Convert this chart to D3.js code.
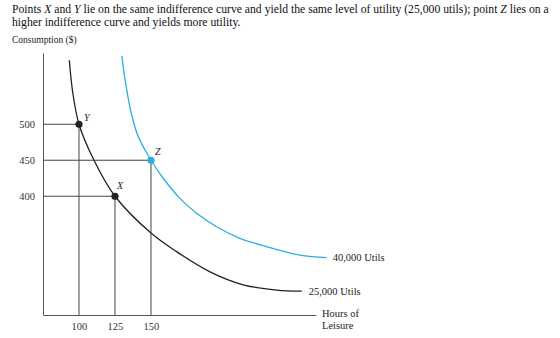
<!DOCTYPE html>
<html lang="en">
<head>
    <meta charset="UTF-8">
    <title>Indifference Curves</title>
    <script src="https://d3js.org/d3.v7.min.js"></script>
    <style>
        body { margin: 0; background: #fff; }
        text { font-family: "Liberation Serif", "Times New Roman", serif; }
    </style>
</head>
<body>

<script>
// values (leisure hours, consumption $)
const xTicks = [100, 125, 150];
const yTicks = [400, 450, 500];

const curveLow = [
    [93.3, 589], [95.6, 545], [100, 500], [110.4, 450], [125, 400],
    [150.2, 348.5], [167.8, 323], [191, 295], [214, 277], [237.3, 269.7], [254.7, 268.3]
];
const curveHigh = [
    [129.7, 595], [132.6, 554.4], [136.1, 517], [141, 483.6], [150, 450],
    [158.5, 425], [170.1, 397], [181.7, 376.3], [195.6, 357.6], [211.8, 341.5],
    [230.3, 330], [253.5, 318.3], [272, 314.6]
];
const points = [
    {name: "Y", leisure: 100, consumption: 500, curve: "low"},
    {name: "X", leisure: 125, consumption: 400, curve: "low"},
    {name: "Z", leisure: 150, consumption: 450, curve: "high"}
];
const curveLabels = ["25,000 Utils", "40,000 Utils"];

const width = 560, height = 338;
const black = "#222", blue = "#2aaee2";

const svg = d3.select("body").append("svg")
    .attr("width", width)
    .attr("height", height);

const x = d3.scaleLinear().domain([75, 264.6]).range([43, 316]);
const y = d3.scaleLinear().domain([235, 599]).range([315, 53]);

// caption
const cap = svg.append("text").attr("x", 12).attr("y", 13)
    .style("font-size", "11.7px").attr("fill", "#111");
cap.append("tspan").text("Points ");
cap.append("tspan").style("font-style", "italic").text("X");
cap.append("tspan").text(" and ");
cap.append("tspan").style("font-style", "italic").text("Y");
cap.append("tspan").text(" lie on the same indifference curve and yield the same level of utility (25,000 utils); point ");
cap.append("tspan").style("font-style", "italic").text("Z");
cap.append("tspan").text(" lies on a");
svg.append("text").attr("x", 12).attr("y", 26)
    .style("font-size", "11.7px").attr("fill", "#111")
    .text("higher indifference curve and yields more utility.");

svg.append("text").attr("x", 12).attr("y", 43)
    .style("font-size", "9.5px").attr("fill", "#222")
    .text("Consumption ($)");

// guide lines to the axes
const guides = svg.append("g").attr("stroke", "#444").attr("stroke-width", 1);
points.forEach(p => {
    guides.append("line")
        .attr("x1", x.range()[0]).attr("x2", x(p.leisure))
        .attr("y1", y(p.consumption)).attr("y2", y(p.consumption));
    guides.append("line")
        .attr("x1", x(p.leisure)).attr("x2", x(p.leisure))
        .attr("y1", y(p.consumption)).attr("y2", y.range()[0]);
});

// axes
const yAxis = svg.append("g")
    .attr("transform", `translate(${x.range()[0]},0)`)
    .call(d3.axisLeft(y).tickValues(yTicks).tickSize(0).tickSizeOuter(0).tickPadding(8));
const xAxis = svg.append("g")
    .attr("transform", `translate(0,${y.range()[0]})`)
    .call(d3.axisBottom(x).tickValues(xTicks).tickSize(0).tickSizeOuter(0).tickPadding(8));
[xAxis, yAxis].forEach(a => {
    a.select(".domain").attr("stroke", "#555");
    a.selectAll("text")
        .style("font-family", "'Liberation Serif', serif")
        .style("font-size", "10.5px").attr("fill", "#333");
});

// indifference curves
const line = d3.line()
    .x(d => x(d[0])).y(d => y(d[1]))
    .curve(d3.curveCatmullRom.alpha(0.5));
svg.append("path").datum(curveLow)
    .attr("d", line).attr("fill", "none")
    .attr("stroke", black).attr("stroke-width", 1.3);
svg.append("path").datum(curveHigh)
    .attr("d", line).attr("fill", "none")
    .attr("stroke", blue).attr("stroke-width", 1.3);

// curve labels
const endLow = curveLow[curveLow.length - 1];
const endHigh = curveHigh[curveHigh.length - 1];
svg.append("text")
    .attr("x", x(endLow[0]) + 7).attr("y", y(endLow[1]) + 3.5)
    .style("font-size", "10.5px").attr("fill", "#222")
    .text(curveLabels[0]);
svg.append("text")
    .attr("x", x(endHigh[0]) + 6).attr("y", y(endHigh[1]) + 3.5)
    .style("font-size", "10.5px").attr("fill", "#222")
    .text(curveLabels[1]);

// x axis title
const xt = svg.append("text")
    .attr("x", x.range()[1] + 6).attr("y", y.range()[0] + 2)
    .style("font-size", "10.5px").attr("fill", "#222");
xt.append("tspan").text("Hours of");
xt.append("tspan").attr("x", x.range()[1] + 6).attr("dy", 12).text("Leisure");

// points
svg.selectAll("circle.pt").data(points).enter().append("circle")
    .attr("class", "pt")
    .attr("cx", d => x(d.leisure)).attr("cy", d => y(d.consumption))
    .attr("r", 3.6)
    .attr("fill", d => d.curve === "high" ? blue : black);

const labelOffset = {Y: [5, -3], X: [2, -7], Z: [4, -5]};
svg.selectAll("text.pt").data(points).enter().append("text")
    .attr("class", "pt")
    .attr("x", d => x(d.leisure) + labelOffset[d.name][0])
    .attr("y", d => y(d.consumption) + labelOffset[d.name][1])
    .style("font-size", "10px").style("font-style", "italic").attr("fill", "#222")
    .text(d => d.name);
</script>

</body>
</html>
